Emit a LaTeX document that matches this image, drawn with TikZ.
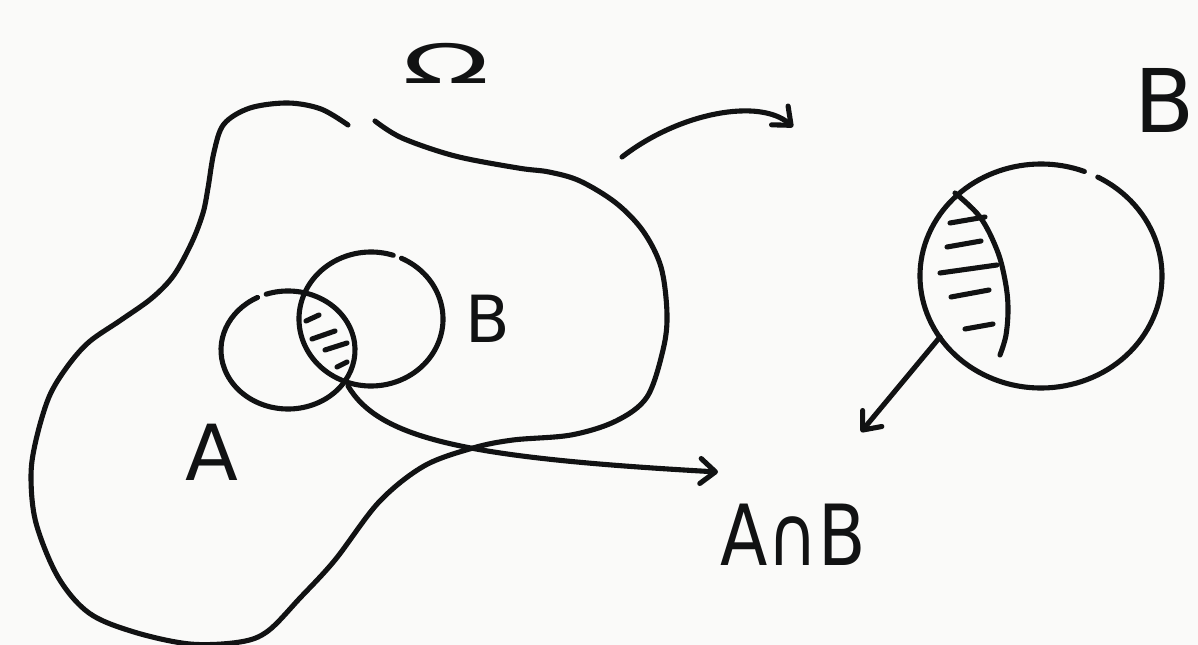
\documentclass[tikz,border=0pt]{standalone}
\usepackage{fontspec}
\setmainfont{DejaVu Sans}
\usetikzlibrary{arrows.meta}
\definecolor{paper}{RGB}{250,250,249}
\definecolor{pen}{RGB}{17,18,19}
\begin{document}
\begin{tikzpicture}[x=0.02cm,y=-0.02cm,
  ink/.style={draw=pen,line width=2.9pt,line cap=round,line join=round},
  sketcharrow/.style={ink,-{Straight Barb[length=0.3cm,width=0.5cm,round]}},
  lbl/.style={text=pen,inner sep=0pt,anchor=center}]
% page
\fill[paper] (0,0) rectangle (1198,645);
\useasboundingbox (0,0) rectangle (1198,645);

% sample space: free-form outline, open at the top
\draw[ink] plot[smooth,tension=0.55] coordinates {
  (348,125) (321,109) (288,103) (250,108) (224,124) (214,152) (208,188)
  (203,213) (192,242) (174,275) (152,298) (121,320) (89,342) (67,367)
  (49,397) (36,440) (31,476) (36,523) (58,577) (89,613) (134,632)
  (190,644) (240,642) (268,631) (300,598) (335,560) (379,502) (424,466)
  (473,448) (513,440) (571,435) (616,421) (647,397) (663,350) (667,314)
  (661,267) (643,231) (616,203) (580,181) (549,172) (518,168) (455,156)
  (402,138) (375,121)};

% event A and event B
\draw[ink] (288,350) ++(251:67 and 59) arc[start angle=251,end angle=603,x radius=67,y radius=59];
\draw[ink] (371,319) ++(295:72 and 67) arc[start angle=295,end angle=648,x radius=72,y radius=67];

% hatching of the overlap
\draw[ink] (306,321) -- (319,315);
\draw[ink] (312,339) -- (335,331);
\draw[ink] (325,350) -- (347,343);
\draw[ink] (337,367) -- (347,362);

% enlarged view of B
\draw[ink] (1041,276) ++(298:121 and 112) arc[start angle=298,end angle=651,x radius=121,y radius=112];
\draw[ink] plot[smooth,tension=0.6] coordinates {
  (955,193) (980,217) (997,250) (1005,280) (1008,307) (1006,335) (1000,355)};
\draw[ink] (950,223) -- (985,217);
\draw[ink] (947,247) -- (981,241);
\draw[ink] (940,273) -- (997,265);
\draw[ink] (951,297) -- (989,290);
\draw[ink] (965,329) -- (993,324);

% labels
\node[lbl,font=\fontsize{31}{31}\selectfont,xscale=2.1] (omega) at (446,63) {Ω};
\node[lbl,font=\fontsize{37}{37}\selectfont] (labB) at (488,319) {B};
\node[lbl,font=\fontsize{44}{44}\selectfont] (labA) at (212,452) {A};
\node[lbl,font=\fontsize{50}{50}\selectfont] (bigB) at (1165,100) {B};
\node[lbl,font=\fontsize{48}{48}\selectfont,xscale=0.82] (labAB) at (793,535) {A∩B};

% arrow end points
\coordinate (omegaout) at (622,157);
\coordinate (toB) at (793,127);
\coordinate (lensfoot) at (348,386);
\coordinate (toAB) at (718,472);
\coordinate (bout) at (940,337);
\coordinate (toAB2) at (861,432);

% arrows
\draw[sketcharrow] (omegaout) .. controls (680,112) and (760,98) .. (toB);
\draw[sketcharrow] (lensfoot) .. controls (380,440) and (470,458) .. (toAB);
\draw[sketcharrow] (bout) -- (toAB2);
\end{tikzpicture}
\end{document}
